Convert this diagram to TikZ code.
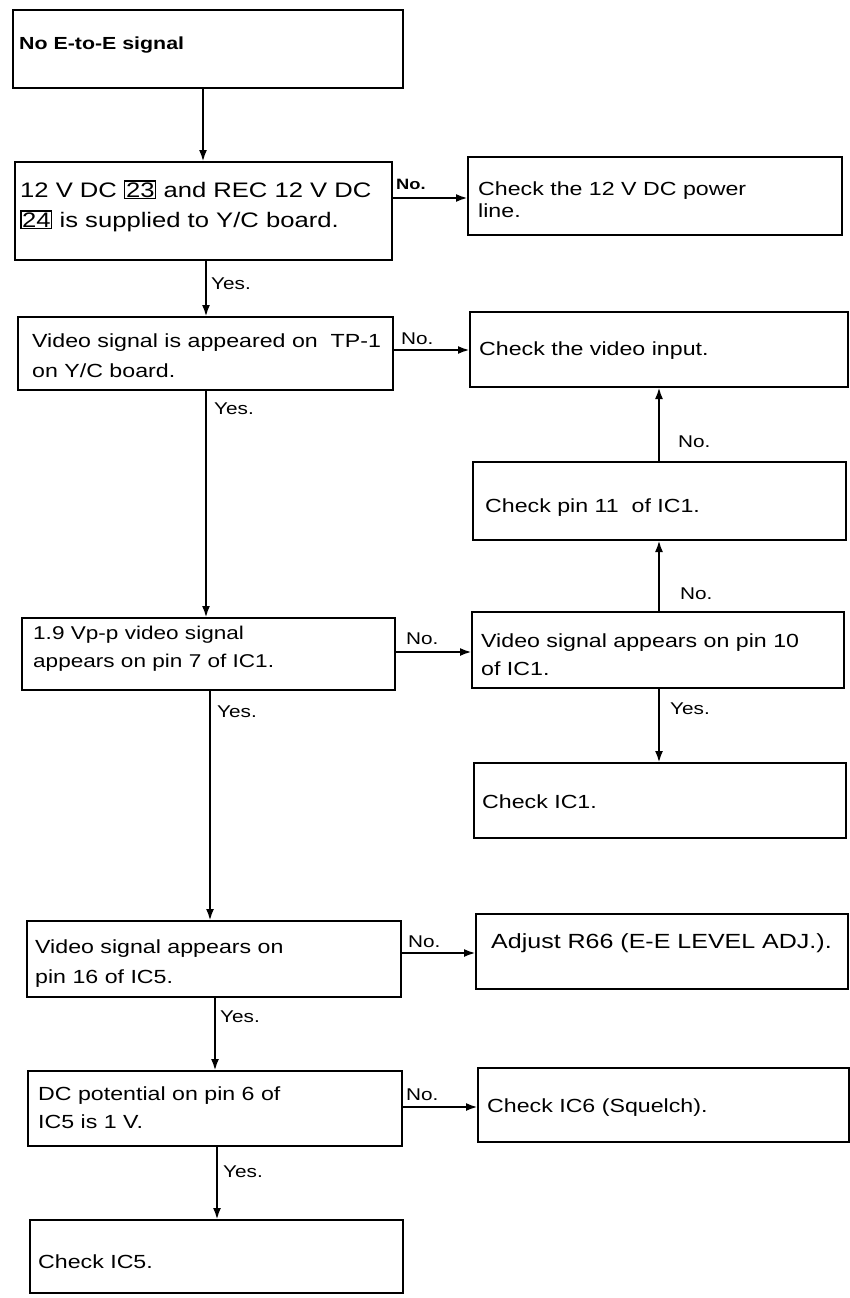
\documentclass[tikz,border=0pt]{standalone}
\usepackage{fontspec}
\setmainfont[FakeStretch=1.22]{Liberation Sans}
\usetikzlibrary{arrows.meta}
\newcommand\numbox[1]{{\setlength\fboxsep{0.6pt}\setlength\fboxrule{1.3pt}\fbox{#1}}}
\begin{document}
\begin{tikzpicture}[x=1pt,y=-1pt,
  box/.style={draw,line width=2.7pt,rectangle,inner sep=0pt,outer sep=0pt,anchor=north west},
  txt/.style={inner sep=0pt,anchor=base west,align=left,font=\fontsize{19}{29}\selectfont},
  lbl/.style={inner sep=0pt,anchor=base west,font=\fontsize{17}{20}\selectfont},
  arr/.style={line width=2.6pt,-{Latex[length=12pt,width=8pt]}}]
\useasboundingbox (0,0) rectangle (849,1298);

% boxes
\node[box,minimum width=390pt,minimum height=78pt] (A) at (13,10) {};
\node[box,minimum width=377pt,minimum height=98pt] (B) at (15,162) {};
\node[box,minimum width=374pt,minimum height=78pt] (C) at (468,157) {};
\node[box,minimum width=375pt,minimum height=73pt] (D) at (18,317) {};
\node[box,minimum width=378pt,minimum height=75pt] (E) at (470,312) {};
\node[box,minimum width=373pt,minimum height=78pt] (F) at (473,462) {};
\node[box,minimum width=372pt,minimum height=76pt] (G) at (472,612) {};
\node[box,minimum width=373pt,minimum height=72pt] (H) at (22,618) {};
\node[box,minimum width=372pt,minimum height=75pt] (I) at (474,763) {};
\node[box,minimum width=374pt,minimum height=76pt] (J) at (27,921) {};
\node[box,minimum width=372pt,minimum height=75pt] (K) at (476,914) {};
\node[box,minimum width=374pt,minimum height=75pt] (L) at (28,1071) {};
\node[box,minimum width=371pt,minimum height=74pt] (M) at (478,1068) {};
\node[box,minimum width=373pt,minimum height=73pt] (N) at (30,1220) {};

% box texts (multi-line texts sit on the baseline of their last line)
\node[txt,font=\fontsize{17.5}{20}\selectfont\bfseries] (At) at (19,50) {No E-to-E signal};
\node[txt,font=\fontsize{21}{30}\selectfont] (Bt) at (20,227) {12 V DC \numbox{23} and REC 12 V DC\\\numbox{24} is supplied to Y/C board.};
\node[txt,font=\fontsize{19}{22}\selectfont] (Ct) at (478,217) {Check the 12 V DC power\\line.};
\node[txt,font=\fontsize{19}{30}\selectfont] (Dt) at (32,377) {Video signal is appeared on\ \ TP-1\\on Y/C board.};
\node[txt] (Et) at (479,355) {Check the video input.};
\node[txt] (Ft) at (485,512) {Check pin 11\ \ of IC1.};
\node[txt,font=\fontsize{19}{28}\selectfont] (Gt) at (481,675) {Video signal appears on pin 10\\of IC1.};
\node[txt,font=\fontsize{18.5}{28}\selectfont] (Ht) at (33,667) {1.9 Vp-p video signal\\appears on pin 7 of IC1.};
\node[txt] (It) at (482,808) {Check IC1.};
\node[txt,font=\fontsize{19}{30}\selectfont] (Jt) at (35,983) {Video signal appears on\\pin 16 of IC5.};
\node[txt,font=\fontsize{20.5}{24}\selectfont] (Kt) at (491,948) {Adjust R66 (E-E LEVEL ADJ.).};
\node[txt,font=\fontsize{19}{28}\selectfont] (Lt) at (38,1128) {DC potential on pin 6 of\\IC5 is 1 V.};
\node[txt] (Mt) at (487,1112) {Check IC6 (Squelch).};
\node[txt] (Nt) at (38,1268) {Check IC5.};

% rows where the horizontal branches run
\coordinate (rB) at (0,198);
\coordinate (rD) at (0,350);
\coordinate (rH) at (0,652);
\coordinate (rJ) at (0,953);
\coordinate (rL) at (0,1107);
% columns of the vertical connectors
\coordinate (c1) at (203,0);
\coordinate (c2) at (206,0);
\coordinate (c3) at (210,0);
\coordinate (c4) at (215,0);
\coordinate (c5) at (217,0);
\coordinate (cR) at (659,0);

% main column
\draw[arr] (A.south -| c1) -- (B.north -| c1);
\draw[arr] (B.south -| c2) -- (D.north -| c2);
\draw[arr] (D.south -| c2) -- (H.north -| c2);
\draw[arr] (H.south -| c3) -- (J.north -| c3);
\draw[arr] (J.south -| c4) -- (L.north -| c4);
\draw[arr] (L.south -| c5) -- (N.north -| c5);

% branches to the right
\draw[arr] (B.east |- rB) -- (C.west |- rB);
\draw[arr] (D.east |- rD) -- (E.west |- rD);
\draw[arr] (H.east |- rH) -- (G.west |- rH);
\draw[arr] (J.east |- rJ) -- (K.west |- rJ);
\draw[arr] (L.east |- rL) -- (M.west |- rL);

% right column
\draw[arr] (G.north -| cR) -- (F.south -| cR);
\draw[arr] (F.north -| cR) -- (E.south -| cR);
\draw[arr] (G.south -| cR) -- (I.north -| cR);

% labels
\node[lbl,font=\fontsize{15}{20}\selectfont\bfseries] (lB) at (396,189) {No.};
\node[lbl] (lBy) at (211,289) {Yes.};
\node[lbl] (lD) at (401,344) {No.};
\node[lbl] (lDy) at (214,414) {Yes.};
\node[lbl] (lF) at (678,447) {No.};
\node[lbl] (lG) at (680,599) {No.};
\node[lbl] (lH) at (406,644) {No.};
\node[lbl] (lGy) at (670,714) {Yes.};
\node[lbl] (lHy) at (217,717) {Yes.};
\node[lbl] (lJ) at (408,947) {No.};
\node[lbl] (lJy) at (220,1022) {Yes.};
\node[lbl] (lL) at (406,1100) {No.};
\node[lbl] (lLy) at (223,1177) {Yes.};
\end{tikzpicture}
\end{document}
